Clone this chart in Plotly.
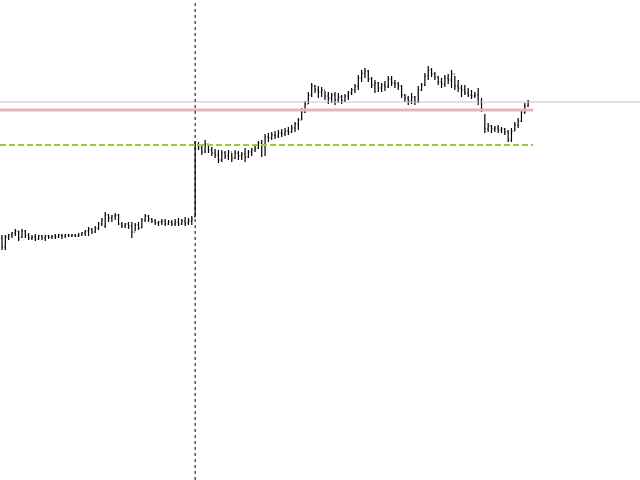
import plotly.graph_objects as go

# Bar index (one bar per period)
n_bars = 160
bar_index = list(range(n_bars))

open_ = [242, 233, 243, 245, 247, 249, 243, 249, 245, 242, 243, 241, 244, 242, 244, 243, 244, 243, 245, 244,
         245, 244, 245, 244, 245, 247, 249, 251, 248, 252, 256, 254, 265, 262, 264, 265, 256, 254, 256, 254,
         248, 255, 252, 260, 264, 261, 259, 257, 258, 259, 256, 258, 256, 258, 256, 259, 257, 259, 263,
         335, 332, 328, 336, 330, 327, 325, 320, 327, 324, 328, 322, 327, 324, 326, 323, 328, 330, 332, 337,
         335, 343, 342, 345, 344, 347, 346, 349, 348, 352, 356, 360, 368, 376, 385, 394, 390, 388, 390, 384,
         382, 385, 380, 383, 379, 384, 387, 390, 394, 402, 407, 409, 401, 395, 397, 392, 395, 393, 401, 397,
         396, 394, 385, 382, 379, 383, 378, 390, 395, 404, 410, 406, 403, 398, 396, 402, 400, 406, 394, 392,
         390, 387, 385, 384, 385, 378, 370, 351, 354, 351, 352, 350, 351, 348, 340, 349, 355, 359, 368, 374]
high = [245, 245, 246, 248, 251, 249, 251, 250, 247, 245, 246, 245, 245, 245, 245, 245, 246, 246, 246, 246,
        246, 246, 246, 247, 248, 250, 253, 252, 254, 258, 262, 268, 266, 265, 267, 266, 258, 257, 258, 258,
        257, 258, 262, 266, 265, 262, 261, 259, 261, 261, 260, 260, 261, 262, 261, 263, 262, 264, 339,
        338, 335, 340, 336, 333, 331, 330, 330, 329, 330, 327, 330, 329, 328, 332, 330, 332, 334, 339, 340,
        346, 347, 348, 349, 350, 351, 352, 353, 355, 358, 362, 372, 379, 388, 397, 395, 394, 393, 389, 388,
        387, 388, 387, 385, 386, 389, 392, 396, 405, 410, 412, 410, 403, 400, 398, 397, 399, 404, 404, 400,
        398, 395, 386, 384, 387, 384, 394, 397, 407, 414, 412, 408, 404, 402, 405, 406, 410, 404, 400, 395,
        395, 392, 390, 388, 392, 382, 366, 357, 355, 354, 355, 353, 352, 350, 352, 358, 362, 371, 377, 380, 386]
low = [230, 230, 240, 242, 244, 239, 242, 242, 240, 240, 239, 240, 240, 239, 241, 241, 241, 242, 241, 242,
       243, 243, 243, 243, 244, 244, 244, 246, 247, 250, 254, 252, 258, 258, 260, 255, 252, 252, 251, 242,
       249, 250, 252, 258, 258, 257, 255, 254, 255, 254, 255, 254, 254, 254, 255, 254, 255, 255, 263,
       330, 325, 327, 327, 324, 322, 317, 318, 321, 320, 318, 321, 320, 320, 318, 322, 324, 328, 331, 323,
       324, 338, 340, 341, 342, 343, 344, 345, 347, 348, 350, 360, 367, 376, 383, 387, 382, 383, 380, 376,
       377, 375, 377, 376, 378, 380, 385, 387, 390, 398, 402, 398, 392, 387, 388, 388, 389, 392, 394, 392,
       390, 382, 378, 375, 376, 375, 377, 389, 394, 400, 403, 400, 395, 392, 393, 396, 392, 390, 388, 383,
       385, 383, 381, 382, 375, 368, 347, 348, 347, 348, 347, 347, 345, 338, 338, 349, 352, 358, 366, 373, 377]
close = [233, 243, 245, 247, 249, 242, 249, 244, 242, 243, 241, 244, 242, 244, 243, 244, 243, 245, 244, 245,
         244, 245, 244, 245, 247, 249, 251, 248, 252, 256, 260, 265, 262, 264, 265, 256, 254, 256, 254, 248,
         255, 252, 260, 264, 261, 259, 257, 258, 259, 256, 258, 256, 258, 256, 259, 257, 259, 261, 335,
         332, 328, 336, 330, 327, 325, 320, 327, 324, 328, 322, 327, 324, 326, 323, 328, 330, 332, 337, 335,
         343, 342, 345, 344, 347, 346, 349, 348, 352, 356, 360, 368, 376, 385, 394, 390, 388, 390, 384, 382,
         385, 380, 383, 379, 384, 387, 390, 394, 402, 407, 409, 401, 395, 397, 392, 395, 393, 401, 397, 396,
         394, 385, 382, 379, 383, 378, 390, 395, 404, 410, 406, 403, 398, 396, 402, 400, 406, 394, 392, 390,
         387, 385, 384, 385, 378, 371, 351, 354, 351, 352, 350, 351, 348, 340, 349, 355, 359, 368, 374, 378, 378]

# Reference levels
current_price = 378
resistance_level = 370
support_level = 335
event_bar = 58

fig = go.Figure(go.Ohlc(
    x=bar_index, open=open_, high=high, low=low, close=close,
    increasing=dict(line=dict(color="black", width=1.2)),
    decreasing=dict(line=dict(color="black", width=1.2)),
    tickwidth=0.3, showlegend=False, hoverinfo="skip",
))

last_x = bar_index[-1] + 0.5
fig.add_shape(type="line", xref="paper", x0=0, x1=1, yref="y", y0=current_price, y1=current_price,
              line=dict(color="#c4c4c4", width=1))
fig.add_shape(type="line", xref="x", x0=-0.6, x1=last_x, yref="y", y0=resistance_level, y1=resistance_level,
              line=dict(color="#e8b4b8", width=3))
fig.add_shape(type="line", xref="x", x0=-0.6, x1=last_x, yref="y", y0=support_level, y1=support_level,
              line=dict(color="#9acd32", width=2, dash="6px,3px"))
fig.add_shape(type="line", xref="x", x0=event_bar, x1=event_bar, yref="paper", y0=0, y1=1,
              line=dict(color="black", width=1, dash="3px,3px"))

fig.update_layout(
    width=640, height=480,
    margin=dict(l=0, r=0, t=0, b=0),
    paper_bgcolor="white", plot_bgcolor="white",
    xaxis=dict(range=[-0.6, 191.6], visible=False, rangeslider=dict(visible=False),
               showgrid=False, zeroline=False),
    yaxis=dict(range=[0, 480], visible=False, showgrid=False, zeroline=False),
)

fig.write_html("out.html", config={"displayModeBar": False},
               post_script="document.body.style.margin='0';")
